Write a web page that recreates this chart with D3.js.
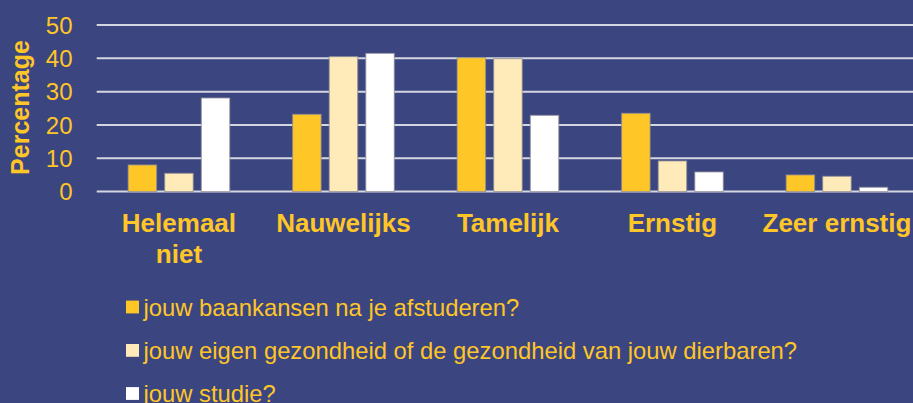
<!DOCTYPE html>
<html>
<head>
<meta charset="utf-8">
<script src="https://cdn.jsdelivr.net/npm/d3@7"></script>
<style>
  html, body { margin: 0; padding: 0; background: #3B4580; }
  svg { display: block; }
  text { font-family: "Liberation Sans", Arial, sans-serif; }
</style>
</head>
<body>
<svg id="chart" width="913" height="403"></svg>
<script>
const categories = ["Helemaal niet", "Nauwelijks", "Tamelijk", "Ernstig", "Zeer ernstig"];
const seriesNames = [
  "jouw baankansen na je afstuderen?",
  "jouw eigen gezondheid of de gezondheid van jouw dierbaren?",
  "jouw studie?"
];
const baankansen = [8.0, 23.2, 40.2, 23.5, 5.0];
const gezondheid = [5.5, 40.5, 39.9, 9.2, 4.6];
const studie = [28.1, 41.5, 22.9, 5.9, 1.3];
const yTicks = [0, 10, 20, 30, 40, 50];
const yTitle = "Percentage";

const seriesValues = [baankansen, gezondheid, studie];
const colors = ["#FFC627", "#FFEBBA", "#FFFFFF"];
const textColor = "#FFC627";

const W = 913, H = 403;
const svg = d3.select("#chart");
svg.append("rect").attr("width", W).attr("height", H).attr("fill", "#3B4580");

const plot = { left: 96.7, right: 919.2, top: 25, bottom: 191.6 };

const x0 = d3.scaleBand().domain(categories)
  .range([plot.left, plot.right]).paddingInner(0.382).paddingOuter(0.191);
const x1 = d3.scaleBand().domain(d3.range(seriesValues.length))
  .range([0, x0.bandwidth()]).paddingInner(0.221).paddingOuter(0);
const y = d3.scaleLinear().domain([0, 50]).range([plot.bottom, plot.top]);

// gridlines
svg.append("g").selectAll("line").data(yTicks).join("line")
  .attr("x1", plot.left).attr("x2", W)
  .attr("y1", d => y(d)).attr("y2", d => y(d))
  .attr("stroke", "#D4D6E0").attr("stroke-width", 2);

// y axis tick labels via d3 axis
const yAxis = d3.axisLeft(y).tickValues(yTicks).tickSize(0).tickPadding(0).tickFormat(d3.format("d"));
const gy = svg.append("g").attr("transform", "translate(72.5,0)").call(yAxis);
gy.select(".domain").remove();
gy.selectAll("text").attr("fill", textColor).attr("font-size", 24)
  .attr("font-family", "'Liberation Sans', Arial, sans-serif")
  .attr("dy", "0.34em").attr("x", 0);

// y title
svg.append("text")
  .attr("transform", "translate(29,107.5) rotate(-90)")
  .attr("text-anchor", "middle")
  .attr("font-size", 25).attr("font-weight", "bold")
  .attr("fill", textColor).text(yTitle);

// bars
const groups = svg.append("g").selectAll("g").data(categories).join("g")
  .attr("transform", d => `translate(${x0(d)},0)`);
groups.selectAll("rect")
  .data((c, ci) => seriesValues.map((vals, si) => ({ si, v: vals[ci] })))
  .join("rect")
  .attr("x", d => x1(d.si))
  .attr("width", x1.bandwidth())
  .attr("y", d => y(d.v))
  .attr("height", d => y(0) - y(d.v))
  .attr("fill", d => colors[d.si])
  .attr("stroke", "rgba(140,140,150,0.8)").attr("stroke-width", 1);

// category labels (wrap when wider than the band step)
const catFont = 26;
const lab = svg.append("g").selectAll("text").data(categories).join("text")
  .attr("x", d => x0(d) + x0.bandwidth() / 2)
  .attr("y", 232.3)
  .attr("text-anchor", "middle")
  .attr("font-size", catFont).attr("font-weight", "bold")
  .attr("fill", textColor)
  .text(d => d);
lab.each(function(d) {
  const t = d3.select(this);
  if (this.getComputedTextLength() > x0.step() - 2) {
    const words = d.split(" ");
    t.text(null);
    const cx = x0(d) + x0.bandwidth() / 2;
    t.append("tspan").attr("x", cx).attr("dy", 0).text(words.slice(0, -1).join(" "));
    t.append("tspan").attr("x", cx).attr("dy", 31).text(words[words.length - 1]);
  }
});

// legend
const legendBaselines = [315.8, 359.2, 402.3];
const lg = svg.append("g").selectAll("g").data(seriesNames).join("g");
lg.append("rect")
  .attr("x", 126).attr("y", (d, i) => legendBaselines[i] - 15.2)
  .attr("width", 13).attr("height", 12.8)
  .attr("fill", (d, i) => colors[i]);
lg.append("text")
  .attr("x", 143.5).attr("y", (d, i) => legendBaselines[i])
  .attr("font-size", 23.8).attr("fill", textColor)
  .text(d => d);
</script>
</body>
</html>
